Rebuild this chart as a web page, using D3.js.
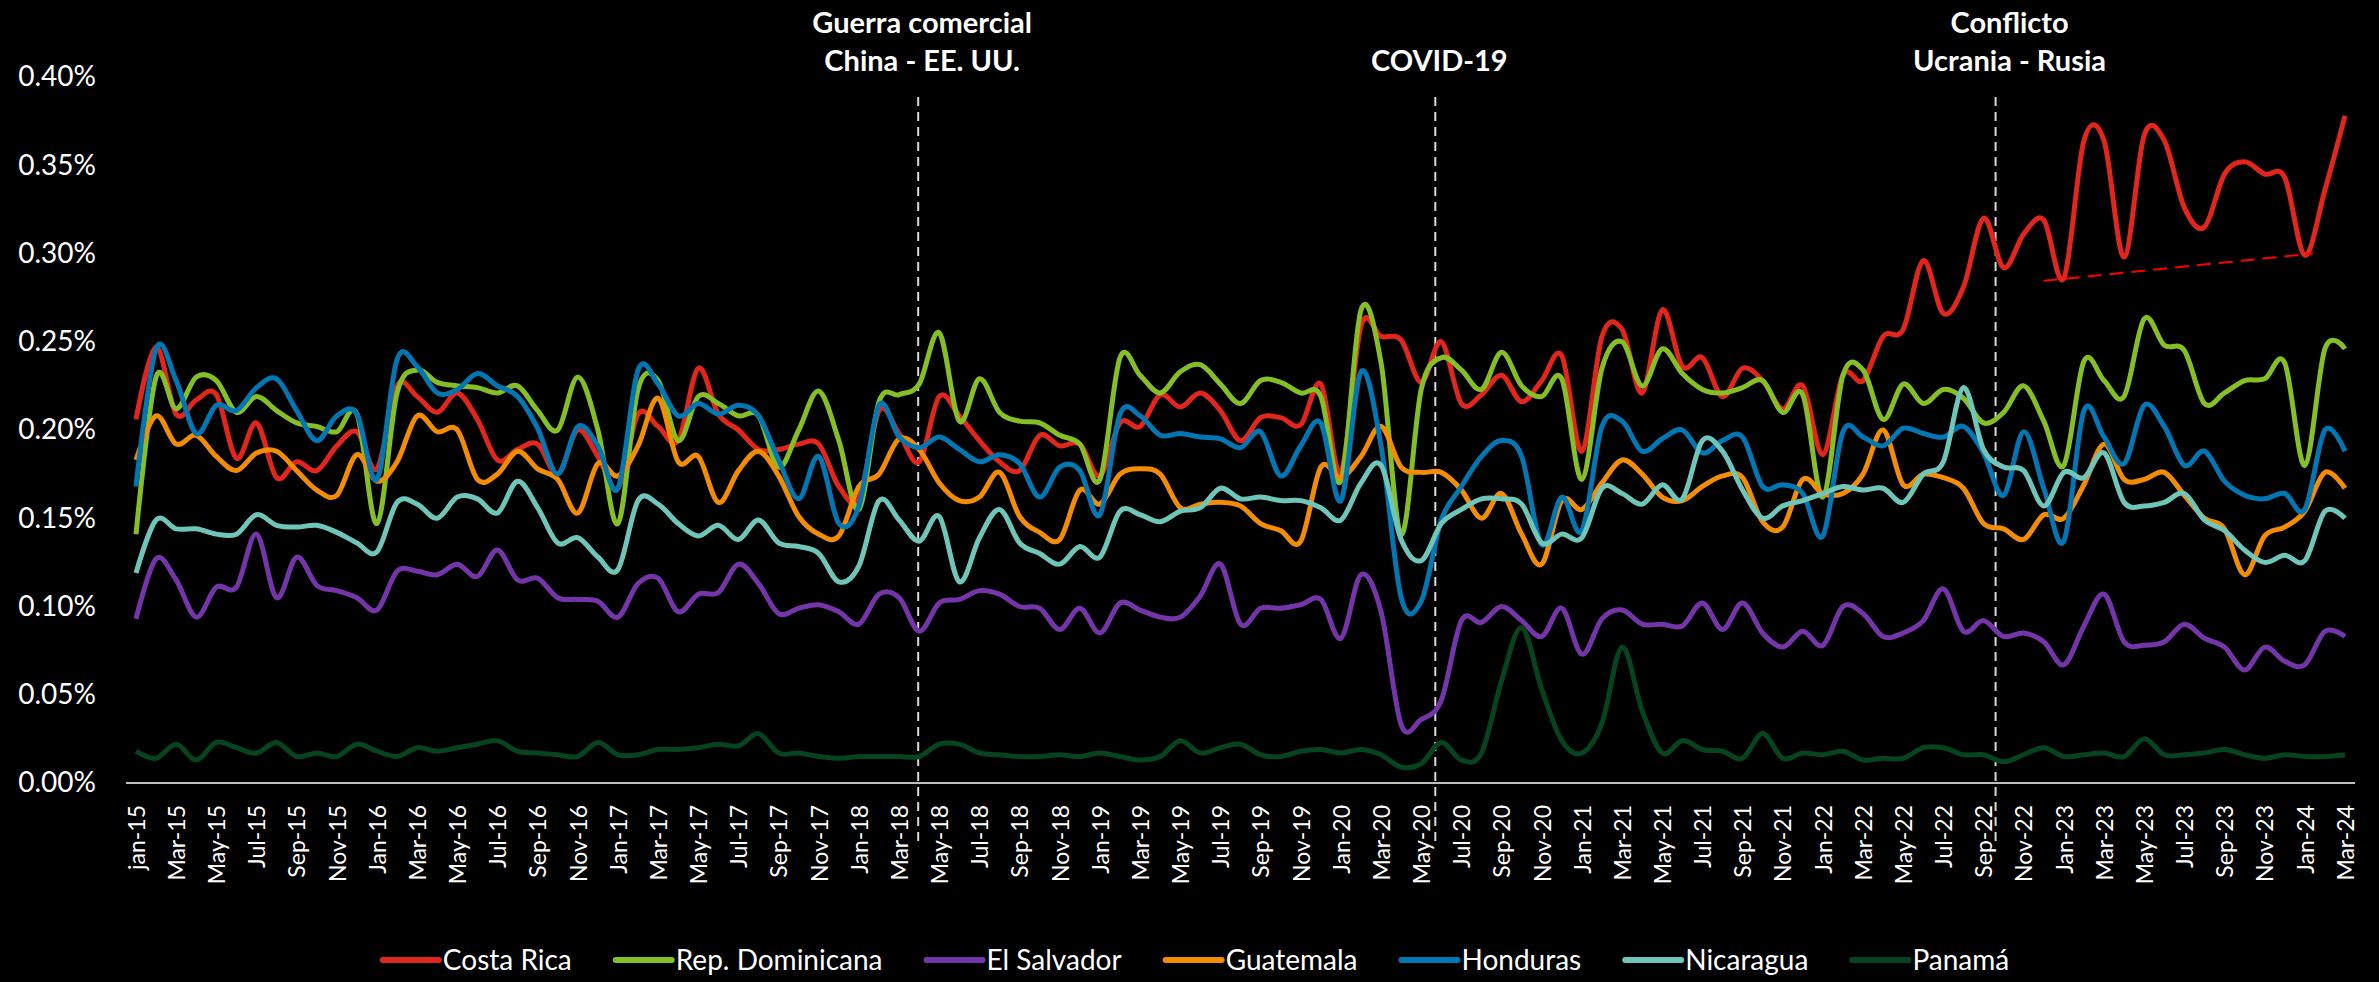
<!DOCTYPE html>
<html>
<head>
<meta charset="utf-8">
<script src="https://cdn.jsdelivr.net/npm/d3@7"></script>
<style>
  html, body { margin: 0; padding: 0; background: #000; }
  svg { display: block; }
  text { font-family: Lato, "Open Sans", sans-serif; fill: #fff; }
</style>
</head>
<body>
<svg id="chart" width="2379" height="982"></svg>
<script>
// values are in hundredths of a percentage point (20.6 -> 0.206%)
const tickLabels = [
  "jan-15","Mar-15","May-15","Jul-15","Sep-15","Nov-15",
  "Jan-16","Mar-16","May-16","Jul-16","Sep-16","Nov-16",
  "Jan-17","Mar-17","May-17","Jul-17","Sep-17","Nov-17",
  "Jan-18","Mar-18","May-18","Jul-18","Sep-18","Nov-18",
  "Jan-19","Mar-19","May-19","Jul-19","Sep-19","Nov-19",
  "Jan-20","Mar-20","May-20","Jul-20","Sep-20","Nov-20",
  "Jan-21","Mar-21","May-21","Jul-21","Sep-21","Nov-21",
  "Jan-22","Mar-22","May-22","Jul-22","Sep-22","Nov-22",
  "Jan-23","Mar-23","May-23","Jul-23","Sep-23","Nov-23",
  "Jan-24","Mar-24"
];

const costaRica = [
  20.6,24.7,20.9,21.7,22.0,18.4,20.4,17.3,18.2,17.7,19.1,19.9,17.8,22.5,21.9,21.0,22.1,20.6,18.3,18.9,19.2,
  17.5,20.0,18.5,16.7,20.9,20.2,19.4,23.5,20.9,20.0,18.9,18.9,19.2,19.2,16.8,16.1,21.1,19.8,18.2,21.9,
  20.8,19.4,18.2,17.7,19.7,19.1,19.2,17.4,20.4,20.2,22.0,21.3,22.1,21.1,19.4,20.7,20.7,20.3,22.6,17.6,
  25.9,25.3,25.1,22.7,25.0,21.5,22.0,23.1,21.6,22.8,24.2,18.8,25.3,25.7,22.1,26.8,23.6,24.1,21.9,23.5,
  22.8,21.2,22.5,18.6,23.1,22.8,25.3,25.7,29.6,26.6,28.1,32.0,29.2,31.1,31.9,28.6,36.4,36.4,29.8,36.7,
  36.4,32.6,31.5,34.5,35.2,34.5,34.3,29.9,33.6,37.8
];
const repDominicana = [
  14.1,23.0,21.2,23.0,22.8,21.0,21.9,21.1,20.4,20.2,19.9,20.9,14.7,22.1,23.4,22.7,22.5,22.4,22.1,22.5,21.1,
  20.0,23.0,20.0,14.7,22.3,22.8,19.4,21.9,21.5,20.8,20.8,17.9,20.0,22.2,19.4,15.5,21.6,22.0,22.6,25.5,
  20.5,22.9,21.0,20.5,20.4,19.7,19.2,17.2,24.1,23.1,22.1,23.3,23.7,22.6,21.5,22.8,22.7,22.1,21.9,17.1,
  26.8,23.8,14.1,22.3,24.1,23.4,22.3,24.4,22.5,21.9,22.9,17.2,23.5,25.0,22.5,24.6,23.2,22.3,22.1,22.4,
  22.8,21.0,22.0,16.2,23.1,23.4,20.6,22.6,21.5,22.3,21.8,20.4,21.0,22.5,20.5,18.0,23.9,22.8,21.9,26.3,
  24.8,24.5,21.5,22.1,22.8,22.9,23.8,18.0,24.6,24.6
];
const elSalvador = [
  9.3,12.7,11.5,9.4,11.1,11.1,14.1,10.5,12.8,11.2,10.9,10.5,9.8,12.0,12.0,11.8,12.4,11.7,13.2,11.5,11.6,
  10.5,10.4,10.3,9.4,11.3,11.6,9.7,10.7,10.8,12.4,11.3,9.6,9.9,10.1,9.7,9.0,10.7,10.5,8.6,10.2,
  10.4,10.9,10.7,10.0,9.9,8.7,9.9,8.5,10.2,9.8,9.4,9.4,10.6,12.4,9.0,9.9,9.9,10.1,10.4,8.2,
  11.8,9.7,3.3,3.6,4.7,9.2,9.1,10.0,9.2,8.3,9.9,7.3,9.3,9.8,9.0,9.0,8.9,10.2,8.7,10.2,
  8.5,7.7,8.6,7.8,10.0,9.6,8.3,8.5,9.2,11.0,8.6,9.2,8.3,8.5,8.0,6.7,8.9,10.7,8.0,7.8,
  8.0,9.0,8.2,7.7,6.4,7.7,6.9,6.7,8.6,8.3
];
const guatemala = [
  18.3,20.8,19.2,19.7,18.5,17.7,18.7,18.8,17.7,16.6,16.3,18.6,17.1,18.2,20.8,19.9,20.0,17.2,17.5,18.8,17.8,
  17.2,15.3,18.1,17.4,19.1,21.8,18.2,18.5,15.9,17.7,18.8,17.4,15.1,14.1,14.0,16.8,17.5,19.5,18.9,17.0,
  16.0,16.2,17.6,15.1,14.2,13.8,16.6,15.8,17.5,17.8,17.5,15.6,15.8,15.9,15.7,14.7,14.3,13.7,17.9,17.3,
  18.5,20.2,17.9,17.6,17.6,16.6,15.0,16.4,14.1,12.4,16.0,15.5,17.0,18.3,17.5,16.2,16.0,16.8,17.4,17.3,
  14.8,14.5,17.2,16.4,16.4,17.5,20.0,16.9,17.5,17.3,16.7,14.7,14.4,13.8,15.2,15.0,16.9,19.2,17.2,17.2,
  17.6,16.3,15.0,14.4,11.8,14.0,14.5,15.4,17.6,16.7
];
const honduras = [
  16.8,24.6,22.8,19.8,21.4,21.1,22.4,22.9,21.1,19.4,20.8,20.9,17.2,24.0,23.6,22.1,22.3,23.2,22.5,21.9,20.1,
  17.5,20.2,19.1,16.7,23.4,22.6,20.8,21.5,20.9,21.4,20.8,18.3,16.1,18.5,14.7,15.7,21.4,19.6,19.0,19.6,
  18.9,18.2,18.6,18.1,16.2,17.9,17.7,15.2,20.9,20.8,19.7,19.8,19.6,19.5,19.0,19.9,17.4,19.1,20.4,16.0,
  23.3,19.1,10.5,10.3,14.9,16.8,18.5,19.4,18.5,13.5,16.2,14.3,20.2,20.5,18.8,19.5,20.0,18.7,19.4,19.6,
  16.8,16.9,16.4,14.0,19.9,19.6,19.1,20.1,19.8,19.6,20.2,18.7,16.3,19.9,16.7,13.7,21.1,19.6,18.1,21.4,
  20.2,18.0,18.8,17.1,16.3,16.1,16.4,15.5,20.0,18.8
];
const nicaragua = [
  11.9,14.9,14.4,14.4,14.1,14.1,15.2,14.6,14.5,14.6,14.2,13.6,13.1,15.9,15.8,15.0,16.2,16.1,15.3,17.1,15.6,
  13.6,13.9,12.8,12.1,16.0,15.8,14.7,14.0,14.6,13.8,14.9,13.6,13.4,13.0,11.4,12.3,16.0,14.9,13.7,15.1,
  11.4,13.9,15.5,13.6,13.0,12.4,13.4,12.8,15.4,15.2,14.8,15.4,15.6,16.7,16.1,16.2,16.0,16.0,15.6,14.9,
  17.0,18.0,13.8,12.6,14.7,15.5,16.1,16.1,15.8,13.6,14.1,13.9,16.7,16.4,15.8,16.9,16.1,19.4,18.8,16.6,
  15.0,15.7,16.0,16.4,16.8,16.6,16.7,15.9,17.5,18.2,22.4,18.9,17.9,17.7,15.7,17.6,17.3,18.7,15.9,15.7,
  15.9,16.4,14.9,14.3,13.2,12.5,12.9,12.6,15.4,15.0
];
const panama = [
  1.8,1.4,2.2,1.3,2.3,2.0,1.7,2.3,1.5,1.7,1.5,2.2,1.8,1.5,2.0,1.8,2.0,2.2,2.4,1.8,1.7,
  1.6,1.5,2.3,1.6,1.6,1.9,1.9,2.0,2.2,2.1,2.8,1.7,1.7,1.5,1.4,1.5,1.5,1.5,1.5,2.2,
  2.2,1.7,1.6,1.5,1.5,1.6,1.5,1.7,1.5,1.3,1.5,2.4,1.7,2.0,2.2,1.6,1.5,1.8,1.9,1.7,
  1.9,1.6,0.9,1.1,2.3,1.3,1.7,5.8,8.8,5.3,2.4,1.7,3.4,7.7,4.1,1.7,2.4,1.9,1.8,1.4,
  2.8,1.4,1.7,1.6,1.8,1.3,1.4,1.4,2.0,2.0,1.6,1.6,1.2,1.6,2.0,1.5,1.6,1.7,1.5,2.5,
  1.6,1.6,1.7,1.9,1.6,1.4,1.6,1.5,1.5,1.6
];

const seriesNames = ["Costa Rica","Rep. Dominicana","El Salvador","Guatemala","Honduras","Nicaragua","Panamá"];
const seriesColors = ["#E3261D","#86BE25","#7435A8","#F28C00","#0077B3","#6EC5B8","#06431F"];
const seriesValues = [costaRica, repDominicana, elSalvador, guatemala, honduras, nicaragua, panama];

// events: month index (0 = Jan-15) where the dashed marker sits
const eventIdx = [38.95, 64.7, 92.6];
const eventText = [["Guerra comercial","China - EE. UU."],["COVID-19"],["Conflicto","Ucrania - Rusia"]];
const eventShift = [4, 4, 14];

// trend on Costa Rica lows (month index, value)
const trendIdx = [95.0, 108.4];
const trendVal = [28.45, 30.0];

const yTicks = [0, 5, 10, 15, 20, 25, 30, 35, 40];

const svg = d3.select("#chart");
const nMonths = costaRica.length;

const x = d3.scaleLinear().domain([0, nMonths - 1]).range([136, 2345]);
const y = d3.scaleLinear().domain([0, 40]).range([783, 77]);

// y axis labels
const yAxis = d3.axisLeft(y).tickValues(yTicks).tickSize(0).tickPadding(0)
  .tickFormat(d => (d / 100).toFixed(2) + "%");
svg.append("g").attr("transform", "translate(96,0)").call(yAxis)
  .call(g => g.select(".domain").remove())
  .selectAll("text")
  .style("font-family", "Lato, sans-serif")
  .attr("fill", "#fff")
  .style("font-size", "28px");

// x axis labels
const xAxis = d3.axisBottom(x)
  .tickValues(d3.range(0, nMonths, 2))
  .tickFormat(i => tickLabels[i / 2])
  .tickSize(0).tickPadding(0);
svg.append("g").attr("transform", "translate(0,805)").call(xAxis)
  .call(g => g.select(".domain").remove())
  .selectAll("text")
  .attr("transform", "rotate(-90)")
  .attr("text-anchor", "end")
  .attr("x", 0).attr("y", 0).attr("dy", "0.36em")
  .style("font-family", "Lato, sans-serif")
  .attr("fill", "#fff")
  .style("font-size", "23px");

// base line
svg.append("line")
  .attr("x1", x(-0.5)).attr("x2", x(nMonths - 0.5))
  .attr("y1", y(0)).attr("y2", y(0))
  .attr("stroke", "#BFBFBF").attr("stroke-width", 2);

// event markers
eventIdx.forEach((idx, k) => {
  svg.append("line")
    .attr("x1", x(idx)).attr("x2", x(idx))
    .attr("y1", 97).attr("y2", 845)
    .attr("stroke", "#D9D9D9").attr("stroke-width", 2)
    .attr("stroke-dasharray", "9,6");
  const lines = eventText[k];
  lines.forEach((t, j) => {
    svg.append("text")
      .attr("x", x(idx) + eventShift[k])
      .attr("y", 71 - (lines.length - 1 - j) * 38)
      .attr("text-anchor", "middle")
      .style("font-size", "29px")
      .style("font-weight", "bold")
      .text(t);
  });
});

// series lines
const line = d3.line()
  .x((d, i) => x(i))
  .y(d => y(d))
  .curve(d3.curveCatmullRom.alpha(0));

svg.append("g").selectAll("path")
  .data(seriesValues)
  .enter().append("path")
  .attr("fill", "none")
  .attr("stroke", (d, i) => seriesColors[i])
  .attr("stroke-width", 5)
  .attr("stroke-linejoin", "round")
  .attr("d", line);

// trend
svg.append("line")
  .attr("x1", x(trendIdx[0])).attr("y1", y(trendVal[0]))
  .attr("x2", x(trendIdx[1])).attr("y2", y(trendVal[1]))
  .attr("stroke", "#FF0000").attr("stroke-width", 2)
  .attr("stroke-dasharray", "14,8");

// legend
const legend = svg.append("g");
const items = legend.selectAll("g").data(seriesNames).enter().append("g");
items.append("line")
  .attr("x1", 0).attr("x2", 56).attr("y1", 0).attr("y2", 0)
  .attr("stroke", (d, i) => seriesColors[i])
  .attr("stroke-width", 6)
  .attr("stroke-linecap", "round");
items.append("text")
  .attr("x", 60).attr("dy", "0.35em")
  .style("font-size", "28px")
  .text(d => d);

let cursor = 0;
const gap = 44;
items.each(function() {
  const w = 60 + d3.select(this).select("text").node().getComputedTextLength();
  d3.select(this).attr("transform", "translate(" + cursor + ",0)");
  cursor += w + gap;
});
const total = cursor - gap;
legend.attr("transform", "translate(" + (1196 - total / 2) + ",960)");
</script>
</body>
</html>
